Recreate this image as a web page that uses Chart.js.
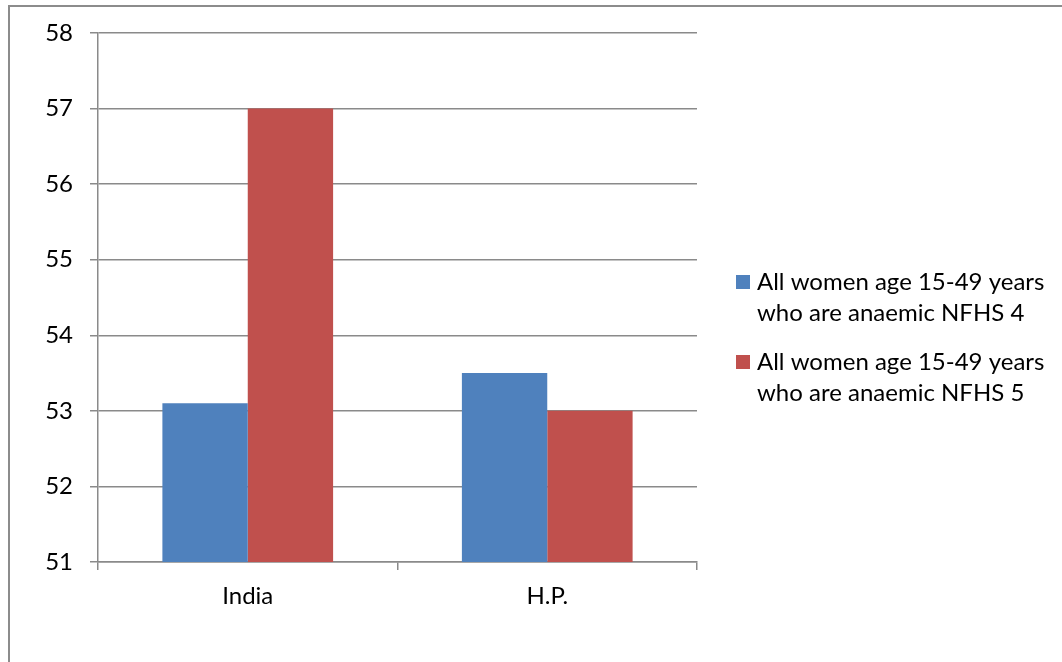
<!DOCTYPE html>
<html>
<head>
<meta charset="utf-8">
<style>
  html, body { margin: 0; padding: 0; background: #fff; }
  #wrap { width: 1062px; height: 662px; }
</style>
</head>
<body>
<div id="wrap"><canvas id="anaemiaChart"></canvas></div>
<script src="https://cdn.jsdelivr.net/npm/chart.js"></script>
<script>

const categories = ['India', 'H.P.'];
const nfhs4 = [53.1, 53.5];
const nfhs5 = [57.0, 53.0];
const seriesNames = [
    ['All women age 15-49 years', 'who are anaemic NFHS 4'],
    ['All women age 15-49 years', 'who are anaemic NFHS 5']
];
const yTicks = [51, 52, 53, 54, 55, 56, 57, 58];

const FONT = 'Lato, "Open Sans", "Liberation Sans", sans-serif';
const GRID = '#8a8a8a';

// outer frame like the pasted office chart
const framePlugin = {
    id: 'frame',
    beforeDraw(chart) {
        const ctx = chart.ctx;
        ctx.save();
        ctx.fillStyle = '#fff';
        ctx.fillRect(0, 0, chart.width, chart.height);
        ctx.strokeStyle = '#8c8c8c';
        ctx.lineWidth = 2;
        ctx.strokeRect(9, 6, chart.width + 20, chart.height + 20);
        ctx.restore();
    }
};

// legend on the right, two lines per entry, box next to first line
const sideLegend = {
    id: 'sideLegend',
    afterDraw(chart) {
        const ctx = chart.ctx;
        const x = chart.chartArea.right + 39;
        let y = 282;
        ctx.save();
        ctx.font = '24px ' + FONT;
        ctx.textBaseline = 'middle';
        ctx.textAlign = 'left';
        chart.data.datasets.forEach(ds => {
            ctx.fillStyle = ds.backgroundColor;
            ctx.fillRect(x, y - 7, 14, 14);
            ctx.fillStyle = '#000';
            ds.label.forEach((line, i) => {
                ctx.fillText(line, x + 21, y + i * 31);
            });
            y += 80;
        });
        ctx.restore();
    }
};

new Chart(document.getElementById('anaemiaChart'), {

    type: 'bar',

    data: {
        labels: categories,
        datasets: [
            {
                label: seriesNames[0],
                data: nfhs4,
                backgroundColor: '#4f81bd'
            },
            {
                label: seriesNames[1],
                data: nfhs5,
                backgroundColor: '#c0504d'
            }
        ]
    },

    options: {
        responsive: true,
        maintainAspectRatio: false,
        animation: false,
        datasets: {
            bar: {
                categoryPercentage: 0.57,
                barPercentage: 1
            }
        },
        layout: {
            padding: { left: 0, top: 33, right: 365, bottom: 0 }
        },
        plugins: {
            legend: { display: false },
            tooltip: { enabled: false }
        },
        scales: {
            x: {
                afterFit: s => { s.height = 100; },
                grid: {
                    offset: true,
                    drawOnChartArea: false,
                    drawTicks: true,
                    tickLength: 8,
                    color: GRID,
                    lineWidth: 1.5
                },
                border: { color: GRID, width: 1.5 },
                ticks: {
                    color: '#000',
                    padding: 12,
                    font: { family: FONT, size: 24 }
                }
            },
            y: {
                min: 51,
                max: 58,
                afterFit: s => { s.width = 98; },
                afterBuildTicks: s => { s.ticks = yTicks.map(v => ({ value: v })); },
                grid: {
                    color: GRID,
                    lineWidth: 1.5,
                    tickLength: 8
                },
                border: { color: GRID, width: 1.5 },
                ticks: {
                    color: '#000',
                    padding: 17,
                    font: { family: FONT, size: 24 }
                }
            }
        }
    },

    plugins: [framePlugin, sideLegend]
});

</script>
</body>
</html>
